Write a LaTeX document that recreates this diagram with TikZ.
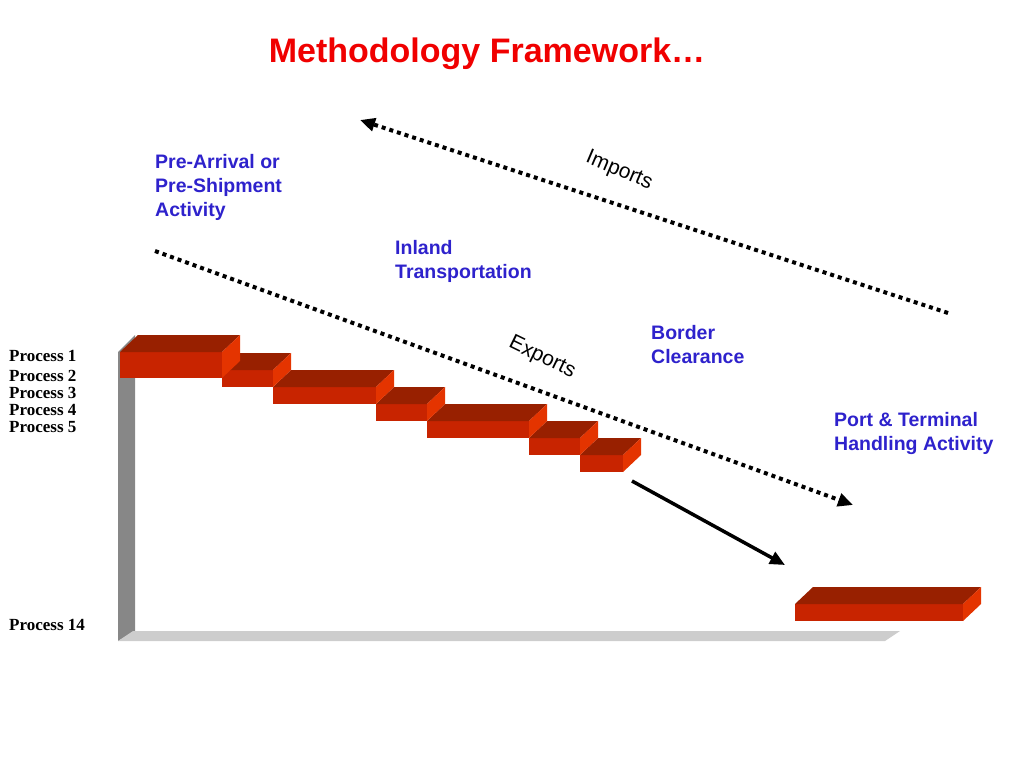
\documentclass[tikz,border=0pt]{standalone}
\usepackage{fontspec}
\setmainfont{Liberation Sans}
\newfontfamily\procfont{Liberation Serif}
\usepackage{tikz}
\usetikzlibrary{arrows.meta, positioning, calc}
\definecolor{titlered}{HTML}{F00000}
\definecolor{labelblue}{HTML}{2E22CC}
\definecolor{frontred}{HTML}{C82400}
\definecolor{topred}{HTML}{982000}
\definecolor{sidered}{HTML}{E43400}
\definecolor{walldark}{HTML}{878787}
\definecolor{floorlight}{HTML}{CDCDCD}
\tikzstyle{titletext} = [font=\fontsize{34}{40}\selectfont\bfseries, text=titlered, inner sep=0pt]
\tikzstyle{phasetext} = [font=\fontsize{19.5}{24}\selectfont\bfseries, text=labelblue, align=left, inner sep=0pt, anchor=north west]
\tikzstyle{proctext} = [font=\procfont\fontsize{17}{19}\selectfont\bfseries, inner sep=0pt, anchor=base west]
\tikzstyle{flowtext} = [font=\fontsize{21}{24}\selectfont, inner sep=0pt]
\tikzstyle{dotarrow} = [line width=4pt, dash pattern=on 4pt off 4pt, -{Triangle[length=15pt,width=13pt]}]
\tikzstyle{solidarrow} = [line width=3.5pt, -{Triangle[length=15pt,width=13pt]}]
% one step: x left, x right, y top, y bottom (front face)
\newcommand{\stepblock}[4]{%
  \fill[frontred] (#1,#3) rectangle (#2,#4);
  \fill[topred] (#1,#3) -- ++(18,-17) -- ($(#2,#3)+(18,-17)$) -- (#2,#3) -- cycle;
  \fill[sidered] (#2,#3) -- ++(18,-17) -- ($(#2,#4)+(18,-17)$) -- (#2,#4) -- cycle;
}

\begin{document}
\begin{tikzpicture}[x=1pt, y=-1pt]
  \useasboundingbox (0,0) rectangle (1024,768);

  % Title
  \node (title) [titletext, anchor=base] at (487,63) {Methodology Framework…};

  % Wall and floor
  \fill[walldark] (118,352) -- (135,335) -- (135,631) -- (118,641) -- cycle;
  \fill[floorlight] (118,641) -- (133,631) -- (900,631) -- (885,641) -- cycle;

  % Steps, drawn back to front
  \foreach \xa/\xb/\ya/\yb in {580/623/455/472, 529/580/438/455, 427/529/421/438,
      376/427/404/421, 273/376/387/404, 222/273/370/387, 120/222/352/378}
    {\stepblock{\xa}{\xb}{\ya}{\yb}}
  \stepblock{795}{963}{604}{621}

  % Process labels
  \node (p1)  [proctext] at (9,361) {Process 1};
  \node (p2)  [proctext] at (9,381) {Process 2};
  \node (p3)  [proctext] at (9,398) {Process 3};
  \node (p4)  [proctext] at (9,415) {Process 4};
  \node (p5)  [proctext] at (9,432) {Process 5};
  \node (p14) [proctext] at (9,630) {Process 14};

  % Phase labels
  \node (prearr) [phasetext] at (155,154) {Pre-Arrival or\\Pre-Shipment\\Activity};
  \node (inland) [phasetext] at (395,240) {Inland\\Transportation};
  \node (border) [phasetext] at (651,325) {Border\\Clearance};
  \node (port)   [phasetext] at (834,412) {Port \& Terminal\\Handling Activity};

  % Flow arrows
  \coordinate (imp-s) at (948,313);
  \coordinate (imp-e) at (360,120);
  \coordinate (exp-s) at (155,251);
  \coordinate (exp-e) at (853,505);
  \coordinate (jump-s) at (632,481);
  \coordinate (jump-e) at (785,565);
  \draw[dotarrow] (imp-s) -- (imp-e);
  \draw[dotarrow] (exp-s) -- (exp-e);
  \draw[solidarrow] (jump-s) -- (jump-e);

  \node (imports) [flowtext, rotate=-23] at (619,171) {Imports};
  \node (exports) [flowtext, rotate=-26] at (542,358) {Exports};
\end{tikzpicture}
\end{document}
